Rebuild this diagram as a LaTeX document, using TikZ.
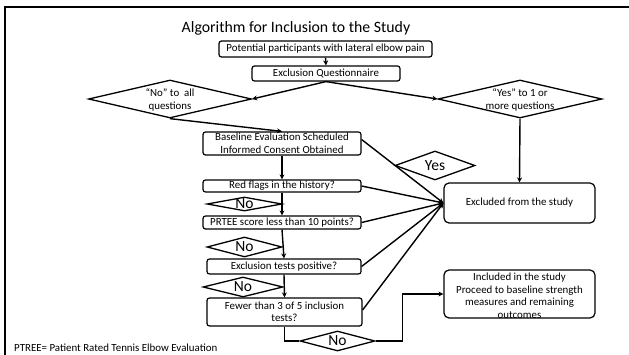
\documentclass[tikz,border=0pt]{standalone}
\usepackage{fontspec}
\setmainfont{Carlito}
\usetikzlibrary{shapes.geometric,arrows.meta}
\tikzset{
 box/.style={draw, line width=1.2pt, rounded corners=2.5pt, inner sep=0pt, align=center, font=\fontsize{10.9}{12.5}\selectfont},
 bigbox/.style={box, rounded corners=5pt},
 dia/.style={draw, diamond, line width=1.3pt, inner sep=0pt},
 arr/.style={line width=1.4pt, -{Stealth[length=5pt,width=5pt]}},
 ln/.style={line width=1.4pt},
 lbl/.style={font=\fontsize{10.9}{12.5}\selectfont, align=center, inner sep=0pt},
 nolbl/.style={font=\fontsize{15.5}{16}\selectfont, inner sep=0pt},
}
\begin{document}
\begin{tikzpicture}[x=1pt,y=-1pt]
\useasboundingbox (0,0) rectangle (629,355);
\draw[line width=2.5pt] (5,356) -- (5,7) -- (630,7);
\node[font=\fontsize{15.8}{18}\selectfont, inner sep=0pt] (title) at (296,28) {Algorithm for Inclusion to the Study};
\node[box, minimum width=213, minimum height=16] (p1) at (325.5,49) {Potential participants with lateral elbow pain};
\node[box, minimum width=148, minimum height=15] (q) at (326,73.5) {Exclusion Questionnaire};
\node[dia, minimum width=163, minimum height=38] (dL) at (170,99) {};
\node[lbl] (dLt) at (170,100) {“No” to \ all\\questions};
\node[dia, minimum width=164, minimum height=38] (dR) at (520,99) {};
\node[lbl] (dRt) at (520,100) {“Yes” to 1 or\\more questions};
\node[box, minimum width=158, minimum height=23] (base) at (282,143.5) {Baseline Evaluation Scheduled\\Informed Consent Obtained};
\node[box, minimum width=158, minimum height=12] (red) at (282,186) {Red flags in the history?};
\node[dia, minimum width=75, minimum height=14] (no1) at (244.5,204) {};
\node[nolbl] (no1t) at (no1) {No};
\node[box, minimum width=158, minimum height=13] (prt) at (282,222.5) {PRTEE score less than 10 points?};
\node[dia, minimum width=75, minimum height=20] (no2) at (244.5,247) {};
\node[nolbl] (no2t) at (no2) {No};
\node[box, minimum width=154, minimum height=15] (exc) at (284,266.5) {Exclusion tests positive?};
\node[dia, minimum width=80, minimum height=20] (no3) at (243,287) {};
\node[nolbl] (no3t) at (no3) {No};
\node[box, minimum width=155, minimum height=28] (few) at (284.5,312) {Fewer than 3 of 5 inclusion\\tests?};
\node[dia, minimum width=75, minimum height=20] (no4) at (337.5,341) {};
\node[nolbl] (no4t) at (no4) {No};
\node[bigbox, minimum width=151, minimum height=40] (excl) at (519.5,203) {Excluded from the study};
\node[bigbox, minimum width=151, minimum height=48] (incl) at (519.5,294) {};
\node[lbl] (inclt) at (519.5,296) {Included in the study\\Proceed to baseline strength\\measures and remaining\\outcomes};
\node[dia, minimum width=80, minimum height=29] (yes) at (435,165.5) {};
\node[nolbl] (yest) at (yes) {Yes};
\node[lbl, anchor=base west] (foot) at (14,351.5) {PTREE= Patient Rated Tennis Elbow Evaluation};
% connectors
\draw[arr] (p1.south) -- (q.north);
\draw[arr] (q.south) -- (dL.east);
\draw[arr] (q.south) -- (dR.west);
\draw[arr] (dL.south) -- (base.north);
\draw[arr] (dR.south) -- (excl.north);
\draw[arr] (base.south) -- (red.north);
\draw[arr] (red.south) -- (prt.north);
\draw[arr] (prt.south) -- (exc.north);
\draw[arr] (exc.south) -- (few.north);
\draw[ln] (few.south) |- (no4.west);
\draw[arr] (no4.east) -- ++(27,0) |- (incl.west);
\draw[arr] ([yshift=4pt]base.east) -- (excl.west);
\draw[arr] (red.east) -- (excl.west);
\draw[arr] (prt.east) -- (excl.west);
\draw[arr] (exc.east) -- (excl.west);
\draw[arr] ([yshift=2pt]few.east) -- (excl.west);
\end{tikzpicture}
\end{document}
